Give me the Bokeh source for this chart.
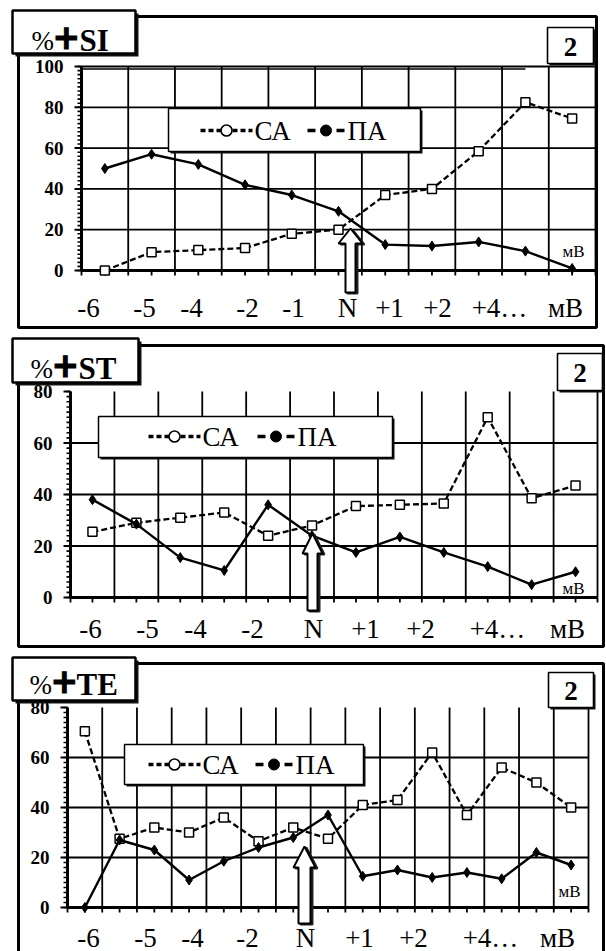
from bokeh.plotting import figure
from bokeh.layouts import column
from bokeh.models import Range1d
from bokeh.core.properties import value
from bokeh.embed import file_html
from bokeh.resources import INLINE

# Share of positive responses (%) at each polarization step, three indices
SI_CA = [0, 9, 10, 11, 18, 20, 37, 40, 58.5, 82.5, 74.5]
SI_PA = [50, 57, 52, 42, 37, 29, 12.7, 12, 14, 9.5, 1]
ST_CA = [25.5, 29, 31, 33, 24, 28, 35.5, 36, 36.5, 70, 38.5, 43.5]
ST_PA = [38, 28.5, 15.5, 10.5, 36, 24, 17.5, 23.5, 17.5, 12, 5, 10]
TE_CA = [70.5, 27.5, 32, 30, 36, 26.5, 32, 27.5, 41, 43, 62, 37, 56, 50, 40]
TE_PA = [0, 27, 23, 11, 18.5, 24, 28, 37, 12.5, 15, 12, 14, 11.5, 22, 17]

SI_XLABELS = ["-6", "-5", "-4", "-2", "-1", "N", "+1", "+2", "+4…", "мВ"]
ST_XLABELS = ["-6", "-5", "-4", "-2", "N", "+1", "+2", "+4…", "мВ"]
TE_XLABELS = ["-6", "-5", "-4", "-2", "N", "+1", "+2", "+4…", "мВ"]
SI_YTICKS = [0, 20, 40, 60, 80, 100]
ST_YTICKS = [0, 20, 40, 60, 80]
TE_YTICKS = [0, 20, 40, 60, 80]
SERIES = ["СА", "ПА"]
UNIT = "мВ"
TAG = "2"

SERIF = value("Liberation Serif")
SANS = value("DejaVu Sans")
PAGE_W = 606


class Panel:
    """Converts page pixels of one stacked panel into its category / value scale."""

    def __init__(self, top, height, x0, x1, n, y_zero, k, ymax):
        self.top, self.height = top, height
        self.x0, self.x1, self.n = x0, x1, n
        self.cw = (x1 - x0) / n
        self.y_zero, self.k, self.ymax = y_zero, k, ymax

    def cx(self, px):
        return (px - self.x0) / self.cw - 0.5

    def cy(self, py):
        return (self.y_zero - py) / self.k


def boxed(p, pn, l, t, r, b, lw, shadow):
    if shadow:
        p.quad(left=pn.cx(l + shadow), right=pn.cx(r + shadow), top=pn.cy(t + shadow),
               bottom=pn.cy(b + shadow), fill_color="#111111", line_color=None)
    p.quad(left=pn.cx(l), right=pn.cx(r), top=pn.cy(t), bottom=pn.cy(b),
           fill_color="white", line_color="black", line_width=lw)


def build(pn, ca, pa, xlabels, yticks, lay):
    p = figure(width=PAGE_W, height=pn.height,
               x_range=Range1d(pn.cx(0), pn.cx(PAGE_W)),
               y_range=Range1d(pn.cy(pn.top + pn.height), pn.cy(pn.top)),
               x_axis_type=None, y_axis_type=None, toolbar_location=None,
               output_backend="svg", min_border=0, outline_line_color=None,
               background_fill_color="white", border_fill_color="white")
    n, ymax = pn.n, pn.ymax
    left, right = -0.5, n - 0.5

    # outer panel frame
    fl, ft, fr, fb = lay["frame"]
    p.quad(left=pn.cx(fl), right=pn.cx(fr), top=pn.cy(ft), bottom=pn.cy(fb),
           fill_color=None, line_color="black", line_width=3)

    # grid
    xs = [i - 0.5 for i in range(n + 1)]
    p.segment(x0=xs, y0=[0] * len(xs), x1=xs, y1=[ymax] * len(xs),
              line_color="black", line_width=1.8)
    hg = [v for v in yticks if 0 < v and (v < ymax or lay["top_line"])]
    p.segment(x0=[left] * len(hg), y0=hg, x1=[right] * len(hg), y1=hg,
              line_color="black", line_width=1.8)
    if lay["top_line"]:
        p.segment(x0=[left], y0=[pn.cy(pn.y_zero - ymax * pn.k + 2.5)],
                  x1=[pn.cx(lay["top_line"])], y1=[pn.cy(pn.y_zero - ymax * pn.k + 2.5)],
                  line_color="black", line_width=1.3)

    # axes and ticks
    p.segment(x0=[left, left], y0=[0, 0], x1=[left, right], y1=[ymax, 0],
              line_color="black", line_width=3)
    minor = list(range(0, ymax + 1, 2))
    p.segment(x0=[pn.cx(pn.x0 - 4)] * len(minor), y0=minor,
              x1=[left] * len(minor), y1=minor, line_color="black", line_width=1.6)
    p.segment(x0=[pn.cx(pn.x0 - 7)] * len(yticks), y0=yticks,
              x1=[left] * len(yticks), y1=yticks, line_color="black", line_width=2)
    xt = [i * 0.5 - 0.5 for i in range(2 * n + 1)]
    p.segment(x0=xt, y0=[0] * len(xt), x1=xt, y1=[pn.cy(pn.y_zero + 5)] * len(xt),
              line_color="black", line_width=1.8)

    # tick labels
    p.text(x=[pn.cx(pn.x0 - 18)] * len(yticks), y=yticks, text=[str(v) for v in yticks],
           text_font=SERIF, text_font_style="bold", text_font_size="19px",
           text_align="right", text_baseline="middle", text_color="black")
    p.text(x=[pn.cx(v) for v in lay["xlab_px"]], y=[pn.cy(lay["xlab_y"])] * len(xlabels),
           text=xlabels, text_font=SERIF, text_font_size="27px",
           text_align="center", text_baseline="middle", text_color="black")
    ux, uy = lay["unit"]
    p.text(x=[pn.cx(ux)], y=[pn.cy(uy)], text=[UNIT], text_font=SERIF,
           text_font_size="17px", text_align="center", text_baseline="middle",
           text_color="black")

    # series
    idx = list(range(n))
    p.line(idx, ca, line_color="black", line_width=2.3, line_dash="6 3")
    p.scatter(idx, ca, marker="square", size=9, fill_color="white",
              line_color="black", line_width=1.5)
    p.line(idx, pa, line_color="black", line_width=2.4)
    p.scatter(idx, pa, marker="diamond", size=10, fill_color="black", line_color="black")

    # legend
    bl, bt, br, bb = lay["legend"]
    boxed(p, pn, bl, bt, br, bb, 1.5, 2)
    ly = pn.cy(lay["legend_y"])
    s0, s1 = lay["ca_sample"]
    p.line([pn.cx(s0), pn.cx(s1)], [ly, ly], line_color="black", line_width=3.5,
           line_dash="5 3")
    p.scatter([pn.cx((s0 + s1) / 2)], [ly], marker="circle", size=11,
              fill_color="white", line_color="black", line_width=1.6)
    p.text(x=[pn.cx(s1 + 2)], y=[ly], text=[SERIES[0]], text_font=SERIF,
           text_font_size="27px", text_align="left", text_baseline="middle")
    s0, s1 = lay["pa_sample"]
    p.segment(x0=[pn.cx(s0), pn.cx(s1 - 8)], y0=[ly, ly], x1=[pn.cx(s0 + 8), pn.cx(s1)],
              y1=[ly, ly], line_color="black", line_width=3.5)
    p.scatter([pn.cx((s0 + s1) / 2)], [ly], marker="circle", size=11,
              fill_color="black", line_color="black")
    p.text(x=[pn.cx(s1 + 3)], y=[ly], text=[SERIES[1]], text_font=SERIF,
           text_font_size="27px", text_align="left", text_baseline="middle")

    # hollow arrow pointing at the N step
    tx, ty, hb, hw, sw, bot = lay["arrow"]
    pts = [(tx, ty), (tx + hw, hb), (tx + sw, hb), (tx + sw, bot),
           (tx - sw, bot), (tx - sw, hb), (tx - hw, hb)]
    p.patch([pn.cx(a + 2) for a, _ in pts], [pn.cy(b + 1) for _, b in pts],
            fill_color="#222222", line_color="#222222", line_width=2)
    p.patch([pn.cx(a) for a, _ in pts], [pn.cy(b) for _, b in pts],
            fill_color="white", line_color="black", line_width=2)

    # title box
    tl, tt, tr, tb = lay["title_box"]
    boxed(p, pn, tl, tt, tr, tb, 2.5, 3)
    base = pn.cy(lay["title_base"])
    px_pct, px_plus, px_name = lay["title_x"]
    p.text(x=[pn.cx(px_pct)], y=[base], text=["%"], text_font=SERIF,
           text_font_size="27px", text_baseline="alphabetic", text_align="left")
    p.text(x=[pn.cx(px_plus)], y=[pn.cy(lay["title_base"] - 4)], text=["+"], text_font=SANS,
           text_font_style="bold", text_font_size="33px", text_baseline="alphabetic",
           text_align="left", text_outline_color="black")
    p.text(x=[pn.cx(px_name)], y=[base], text=[lay["title"]], text_font=SERIF,
           text_font_style="bold", text_font_size="31px", text_baseline="alphabetic",
           text_align="left")

    # panel number box
    nl, nt, nr, nb = lay["tag_box"]
    boxed(p, pn, nl, nt, nr, nb, 1.6, 2)
    p.text(x=[pn.cx((nl + nr) / 2)], y=[pn.cy((nt + nb) / 2 + 1)], text=[TAG],
           text_font=SERIF, text_font_style="bold", text_font_size="27px",
           text_align="center", text_baseline="middle")
    return p


pn1 = Panel(top=0, height=332, x0=81, x1=595, n=len(SI_CA), y_zero=270, k=2.04, ymax=100)
lay1 = dict(frame=(18, 16, 596, 327), top_line=525,
            xlab_px=[88, 144, 191, 247, 293, 347, 389, 437, 499, 565], xlab_y=307,
            unit=(573, 251), legend=(168, 108, 420, 151), legend_y=130,
            ca_sample=(200, 252), pa_sample=(307, 344),
            arrow=(350, 228, 243, 12, 5, 292),
            title_box=(12, 10, 135, 53), title_base=40, title_x=(31, 52, 79), title="SI",
            tag_box=(547, 27, 593, 63))

pn2 = Panel(top=332, height=316, x0=70, x1=597, n=len(ST_CA), y_zero=597, k=2.575, ymax=80)
lay2 = dict(frame=(18, 345, 603, 646), top_line=None,
            xlab_px=[90, 147, 195, 252, 313, 365, 420, 497, 567], xlab_y=628,
            unit=(573, 588), legend=(98, 416, 392, 457), legend_y=436,
            ca_sample=(148, 200), pa_sample=(257, 294),
            arrow=(312, 533, 553, 10, 5, 610),
            title_box=(12, 338, 138, 382), title_base=368, title_x=(30, 51, 78), title="ST",
            tag_box=(557, 353, 602, 390))

pn3 = Panel(top=648, height=303, x0=67, x1=588, n=len(TE_CA), y_zero=907, k=2.5, ymax=80)
lay3 = dict(frame=(18, 663, 603, 990), top_line=None,
            xlab_px=[88, 145, 192, 247, 305, 359, 413, 490, 557], xlab_y=937,
            unit=(569, 891), legend=(124, 744, 363, 784), legend_y=764,
            ca_sample=(148, 200), pa_sample=(255, 292),
            arrow=(304, 846, 867, 11, 6, 923),
            title_box=(12, 657, 135, 700), title_base=684, title_x=(29, 50, 76), title="TE",
            tag_box=(548, 672, 593, 707))

p1 = build(pn1, SI_CA, SI_PA, SI_XLABELS, SI_YTICKS, lay1)
p2 = build(pn2, ST_CA, ST_PA, ST_XLABELS, ST_YTICKS, lay2)
p3 = build(pn3, TE_CA, TE_PA, TE_XLABELS, TE_YTICKS, lay3)

layout = column(p1, p2, p3, spacing=0)
open("out.html", "w").write(file_html(layout, INLINE))
